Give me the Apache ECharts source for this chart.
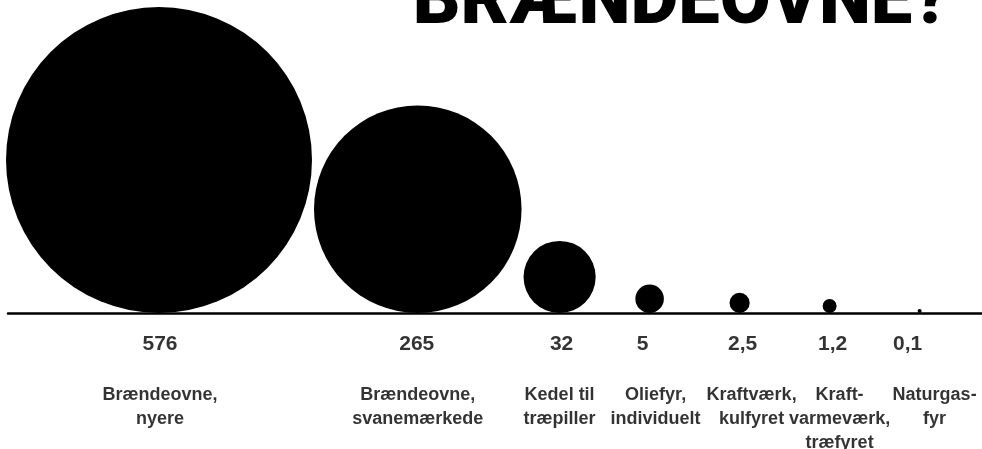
<!DOCTYPE html>
<html>
<head>
<meta charset="utf-8">
<script src="https://cdn.jsdelivr.net/npm/echarts@6/dist/echarts.min.js"></script>
<style>
  html, body { margin: 0; padding: 0; background: #fff; }
  #chart { width: 982px; height: 449px; }
</style>
</head>
<body>
<div id="chart"></div>
<script>
// data
var categories = [
  'Brændeovne,\nnyere',
  'Brændeovne,\nsvanemærkede',
  'Kedel til\ntræpiller',
  'Oliefyr,\nindividuelt',
  'Kraftværk,\nkulfyret',
  'Kraft-\nvarmeværk,\ntræfyret',
  'Naturgas-\nfyr'
];
var values = [576, 265, 32, 5, 2.5, 1.2, 0.1];

// layout: circle area is proportional to value
var sizeK = 12.75;      // px diameter per sqrt(value)
var firstLeft = 6;      // left edge of first circle
var gap = 2;            // big circles nearly touch
var slot = 90;          // small circles sit in even slots
var valueShift = [1, -1, 2, -7, 3, 3, -12];
var nameShift = [1, 0, 0, 6, 12, 10, 15];

var diam = values.map(function (v) { return sizeK * Math.sqrt(v); });
var xs = [];
diam.forEach(function (d, i) {
  if (i === 0) xs.push(firstLeft + d / 2);
  else if (i <= 2) xs.push(xs[i - 1] + diam[i - 1] / 2 + gap + d / 2);
  else xs.push(xs[i - 1] + slot);
});

var points = values.map(function (v, i) { return [xs[i], 0]; });

var chart = echarts.init(document.getElementById('chart'));

var option = {
  animation: false,
  grid: { left: 8, right: 0, top: 0, bottom: 136 },
  xAxis: {
    type: 'value', min: 8, max: 982,
    axisLine: { show: true, lineStyle: { color: '#000', width: 2.5 } },
    axisTick: { show: false },
    axisLabel: { show: false },
    splitLine: { show: false }
  },
  yAxis: {
    type: 'value', min: 0, max: 1, show: false
  },
  graphic: [{
    type: 'text',
    x: 950, y: 4,
    style: {
      text: 'BRÆNDEOVNE?',
      fill: '#000',
      font: '900 74px "Roboto", "Lato", "Liberation Sans", sans-serif',
      textAlign: 'right',
      textVerticalAlign: 'middle'
    }
  }],
  series: [
    {
      type: 'scatter',
      data: points,
      symbol: 'circle',
      symbolSize: function (val, params) { return diam[params.dataIndex]; },
      symbolOffset: [0, '-50%'],
      itemStyle: { color: '#000', opacity: 1 },
      silent: true
    },
    {
      type: 'scatter',
      data: points.map(function (p, i) {
        return { value: p, label: { offset: [valueShift[i], 31] } };
      }),
      symbolSize: 0,
      silent: true,
      label: {
        show: true,
        position: 'inside',
        formatter: function (p) { return String(values[p.dataIndex]).replace('.', ','); },
        color: '#000',
        fontFamily: '"Liberation Sans", Arial, sans-serif',
        fontWeight: 'bold',
        fontSize: 21
      }
    },
    {
      type: 'scatter',
      data: points.map(function (p, i) {
        return { value: p, label: { offset: [nameShift[i], 70] } };
      }),
      symbolSize: 0,
      silent: true,
      label: {
        show: true,
        position: 'inside',
        verticalAlign: 'top',
        align: 'center',
        formatter: function (p) { return categories[p.dataIndex]; },
        color: '#000',
        fontFamily: '"Liberation Sans", Arial, sans-serif',
        fontWeight: 'bold',
        fontSize: 18,
        lineHeight: 24
      }
    }
  ]
};

chart.setOption(option);
</script>
</body>
</html>
